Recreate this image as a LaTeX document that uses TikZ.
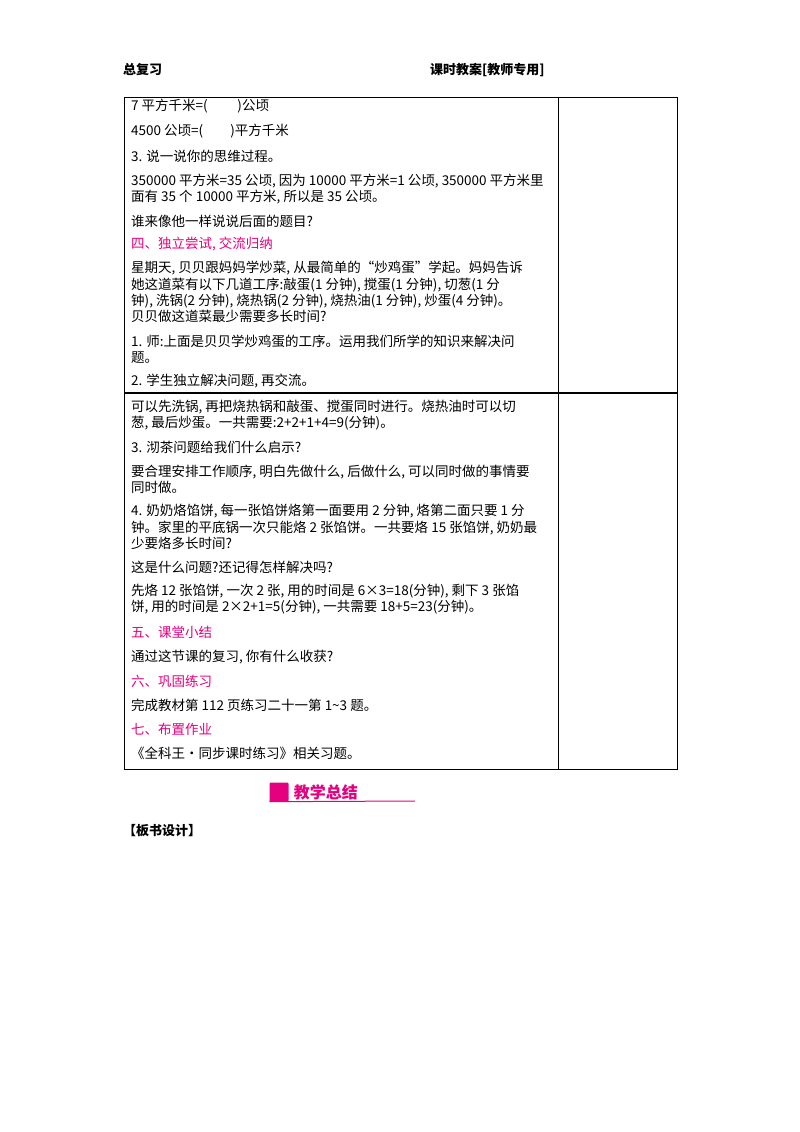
\documentclass[tikz,border=0pt]{standalone}
\usepackage{fontspec}
\setmainfont{Noto Sans CJK SC}
\usetikzlibrary{positioning}
\definecolor{pinkhead}{RGB}{228,0,127}
\begin{document}
\begin{tikzpicture}[x=1pt,y=-1pt,
  txt/.style={anchor=west,inner sep=0pt,align=left,font=\fontsize{13.5}{16.2}\selectfont},
  head/.style={txt,text=pinkhead}]
\useasboundingbox (0,0) rectangle (800,1132);

% page header
\node[txt,font=\bfseries\fontsize{13}{13}\selectfont] (h1) at (123,70) {总复习};
\node[txt,font=\bfseries\fontsize{13}{13}\selectfont] (h2) at (430,70) {课时教案[教师专用]};

% table frame
\draw[line width=0.9pt] (124,97) rectangle (677,769);
\draw[line width=0.6pt] (558,97) -- (558,769);
\draw[line width=1.2pt] (124,393) -- (677,393);

\node[txt] (l1) at (131,106) {7 平方千米=(\hspace{2.2em})公顷};
\node[txt] (l2) at (131,131) {4500 公顷=(\hspace{2em})平方千米};
\node[txt] (l3) at (131,156) {3. 说一说你的思维过程。};
\node[txt] (l4) at (131,189) {350000 平方米=35 公顷, 因为 10000 平方米=1 公顷, 350000 平方米里\\面有 35 个 10000 平方米, 所以是 35 公顷。};
\node[txt] (l5) at (131,221) {谁来像他一样说说后面的题目?};
\node[head] (s4) at (131,244) {四、独立尝试, 交流归纳};
\node[txt] (l6) at (131,292) {星期天, 贝贝跟妈妈学炒菜, 从最简单的“炒鸡蛋”学起。妈妈告诉\\她这道菜有以下几道工序:敲蛋(1 分钟), 搅蛋(1 分钟), 切葱(1 分\\钟), 洗锅(2 分钟), 烧热锅(2 分钟), 烧热油(1 分钟), 炒蛋(4 分钟)。\\贝贝做这道菜最少需要多长时间?};
\node[txt] (l7) at (131,349) {1. 师:上面是贝贝学炒鸡蛋的工序。运用我们所学的知识来解决问\\题。};
\node[txt] (l8) at (131,381) {2. 学生独立解决问题, 再交流。};
\node[txt] (l9) at (131,415) {可以先洗锅, 再把烧热锅和敲蛋、搅蛋同时进行。烧热油时可以切\\葱, 最后炒蛋。一共需要:2+2+1+4=9(分钟)。};
\node[txt] (l10) at (131,447) {3. 沏茶问题给我们什么启示?};
\node[txt] (l11) at (131,479) {要合理安排工作顺序, 明白先做什么, 后做什么, 可以同时做的事情要\\同时做。};
\node[txt] (l12) at (131,527) {4. 奶奶烙馅饼, 每一张馅饼烙第一面要用 2 分钟, 烙第二面只要 1 分\\钟。家里的平底锅一次只能烙 2 张馅饼。一共要烙 15 张馅饼, 奶奶最\\少要烙多长时间?};
\node[txt] (l13) at (131,567) {这是什么问题?还记得怎样解决吗?};
\node[txt] (l14) at (131,599) {先烙 12 张馅饼, 一次 2 张, 用的时间是 6×3=18(分钟), 剩下 3 张馅\\饼, 用的时间是 2×2+1=5(分钟), 一共需要 18+5=23(分钟)。};
\node[head] (s5) at (131,632) {五、课堂小结};
\node[txt] (l15) at (131,657) {通过这节课的复习, 你有什么收获?};
\node[head] (s6) at (131,681) {六、巩固练习};
\node[txt] (l16) at (131,705) {完成教材第 112 页练习二十一第 1\textasciitilde 3 题。};
\node[head] (s7) at (131,729) {七、布置作业};
\node[txt] (l17) at (131,753) {《全科王·同步课时练习》相关习题。};

% summary banner
\node[fill=pinkhead,minimum size=19pt,inner sep=0pt,rounded corners=1pt] (logo) at (279,792) {};
\node[txt,text=pinkhead,font=\bfseries\fontsize{16}{16}\selectfont,right=5pt of logo] (sum) {教学总结};
\draw[pinkhead,line width=1pt] (logo.south west) -- (415,801);

\node[txt,font=\bfseries\fontsize{13}{13}\selectfont] (board) at (123,831) {【板书设计】};
\end{tikzpicture}
\end{document}
